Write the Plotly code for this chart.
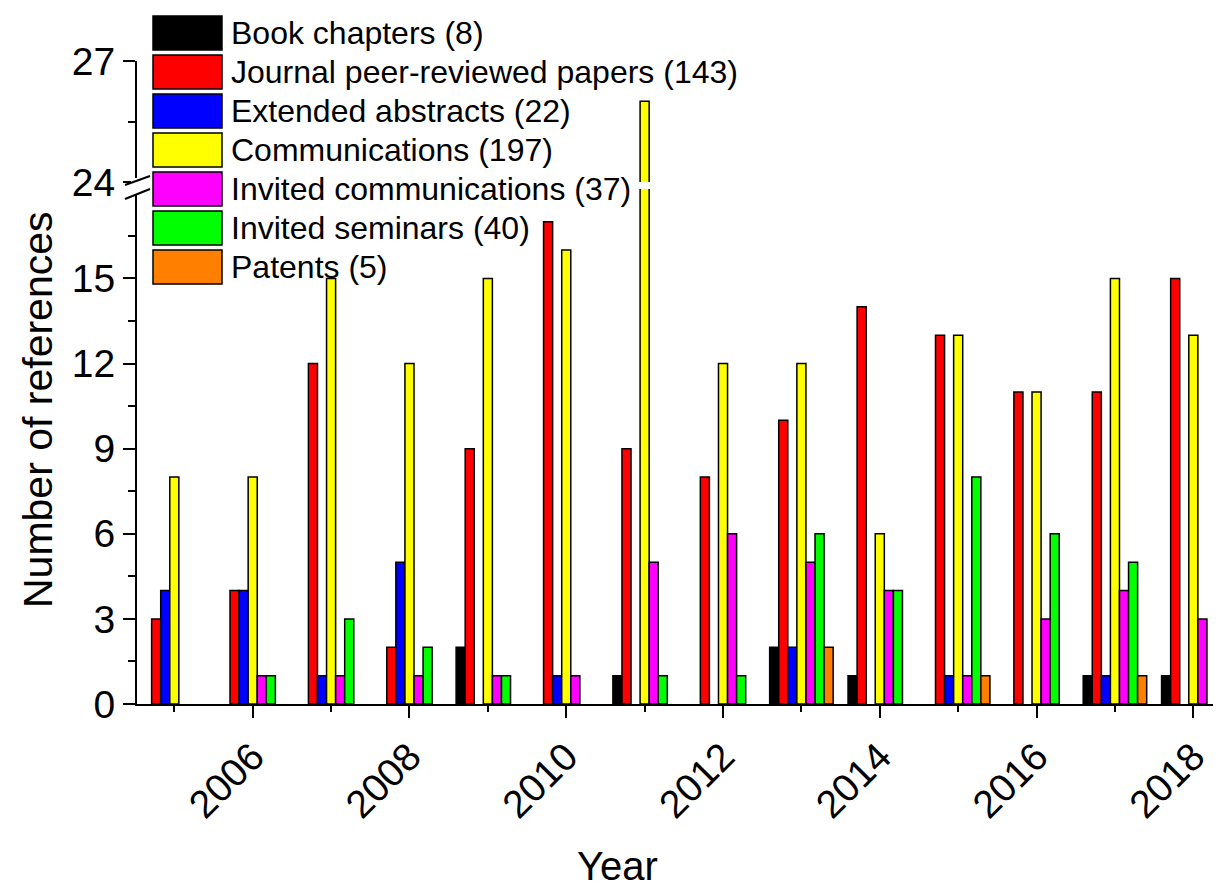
import plotly.graph_objects as go

years = [2005, 2006, 2007, 2008, 2009, 2010, 2011, 2012, 2013, 2014, 2015, 2016, 2017, 2018]

book_chapters = [0, 0, 0, 0, 2, 0, 1, 0, 2, 1, 0, 0, 1, 1]
journal_papers = [3, 4, 12, 2, 9, 17, 9, 8, 10, 14, 13, 11, 11, 15]
extended_abstracts = [4, 4, 1, 5, 0, 1, 0, 0, 2, 0, 1, 0, 1, 0]
communications = [8, 8, 15, 12, 15, 16, 26, 12, 12, 6, 13, 11, 15, 13]
invited_communications = [0, 1, 1, 1, 1, 1, 5, 6, 5, 4, 1, 3, 4, 3]
invited_seminars = [0, 1, 3, 2, 1, 0, 1, 1, 6, 4, 8, 6, 5, 0]
patents = [0, 0, 0, 0, 0, 0, 0, 0, 2, 0, 1, 0, 1, 0]

series_names = [
    "Book chapters (8)",
    "Journal peer-reviewed papers (143)",
    "Extended abstracts (22)",
    "Communications (197)",
    "Invited communications (37)",
    "Invited seminars (40)",
    "Patents (5)",
]
series_values = [book_chapters, journal_papers, extended_abstracts, communications,
                 invited_communications, invited_seminars, patents]
series_colors = ["#000000", "#FF0000", "#0000FF", "#FFFF00", "#FF00FF", "#00FF00", "#FF8000"]

lower_ticks = [0, 3, 6, 9, 12, 15]
lower_minor = [1.5, 4.5, 7.5, 10.5, 13.5, 16.5]
upper_ticks = [24, 27]
upper_minor = [25.5]

FONT = "Liberation Sans, Arial, sans-serif"

# page offset (browser body margin) and pixel geometry in screenshot coordinates
OFF = 8
W, H = 1221 - OFF, 889 - OFF
AX_LEFT, AX_RIGHT, AX_TOP, AX_BOTTOM = 137, 1221, 61, 704
L = AX_LEFT - OFF
T = AX_TOP - OFF
R = W - (AX_RIGHT - OFF)
B = H - (AX_BOTTOM - OFF)
PW = AX_RIGHT - AX_LEFT
PH = AX_BOTTOM - AX_TOP


def px_x(p):
    return (p - AX_LEFT) / PW


def px_y(p):
    return (AX_BOTTOM - p) / PH


fig = go.Figure()

for name, vals, col in zip(series_names, series_values, series_colors):
    yv = [v if v != 0 else None for v in vals]
    for xa, ya in (("x", "y"), ("x2", "y2")):
        fig.add_trace(go.Bar(
            x=years, y=yv, name=name, xaxis=xa, yaxis=ya,
            marker=dict(color=col, line=dict(color="#000000", width=1.5)),
            showlegend=False, hoverinfo="x+y+name",
        ))

lower_top = px_y(189)
upper_bot = px_y(182)

TICKSIZE = 39
axis_common = dict(showline=True, linecolor="black", linewidth=2, ticks="outside",
                   tickwidth=2, tickcolor="black", showgrid=False, zeroline=False,
                   automargin=False, tickfont=dict(family=FONT, size=TICKSIZE, color="black"))

xr = [2004.524, 2018.353]

fig.update_layout(
    width=W, height=H,
    margin=dict(l=L, r=R, t=T, b=B, autoexpand=False),
    paper_bgcolor="white", plot_bgcolor="white",
    barmode="group", bargap=0.19, bargroupgap=0,
    showlegend=False,
    font=dict(family=FONT, color="black"),
    xaxis=dict(**axis_common, range=xr, tickmode="linear", tick0=2006, dtick=2,
               ticklen=12, tickangle=-45, anchor="y",
               minor=dict(tickmode="linear", tick0=2005, dtick=2, ticklen=6, tickwidth=2,
                          tickcolor="black", ticks="outside")),
    xaxis2=dict(matches="x", anchor="y2", visible=False, range=xr),
    yaxis=dict(**axis_common, domain=[0, lower_top], range=[0, 18.15], tickmode="array",
               tickvals=lower_ticks, ticklen=12, anchor="x",
               minor=dict(tickmode="array", tickvals=lower_minor, ticklen=7, tickwidth=2,
                          tickcolor="black", ticks="outside")),
    yaxis2=dict(**axis_common, domain=[upper_bot, 1], range=[24, 27], tickmode="array",
                tickvals=upper_ticks, ticklen=12, anchor="x2",
                minor=dict(tickmode="array", tickvals=upper_minor, ticklen=7, tickwidth=2,
                           tickcolor="black", ticks="outside")),
)

shapes = []
annotations = []

# axis break marks
shapes.append(dict(type="rect", xref="paper", yref="paper",
                   x0=px_x(131), x1=px_x(143), y0=px_y(195), y1=px_y(178),
                   fillcolor="white", line=dict(width=0), layer="above"))
for (y0, y1) in ((185, 176), (199, 189)):
    shapes.append(dict(type="line", xref="paper", yref="paper",
                       x0=px_x(125), x1=px_x(150), y0=px_y(y0), y1=px_y(y1),
                       line=dict(color="black", width=2), layer="above"))

# custom legend with large swatches
for i, (name, col) in enumerate(zip(series_names, series_colors)):
    top = 16 + 39 * i
    shapes.append(dict(type="rect", xref="paper", yref="paper",
                       x0=px_x(153), x1=px_x(222), y0=px_y(top + 34), y1=px_y(top),
                       fillcolor=col, line=dict(color="black", width=1.5), layer="above"))
    annotations.append(dict(text=name, xref="paper", yref="paper",
                            x=px_x(229), y=px_y(top + 17), xanchor="left", yanchor="middle",
                            showarrow=False, font=dict(family=FONT, size=32, color="black")))

# axis titles
annotations.append(dict(text="Number of references", xref="paper", yref="paper",
                        x=px_x(38), y=px_y(410), textangle=-90, xanchor="center",
                        yanchor="middle", showarrow=False,
                        font=dict(family=FONT, size=41, color="black")))
annotations.append(dict(text="Year", xref="paper", yref="paper",
                        x=px_x(617), y=px_y(866), xanchor="center", yanchor="middle",
                        showarrow=False, font=dict(family=FONT, size=40, color="black")))

fig.update_layout(shapes=shapes, annotations=annotations)

fig.write_html("out.html")
